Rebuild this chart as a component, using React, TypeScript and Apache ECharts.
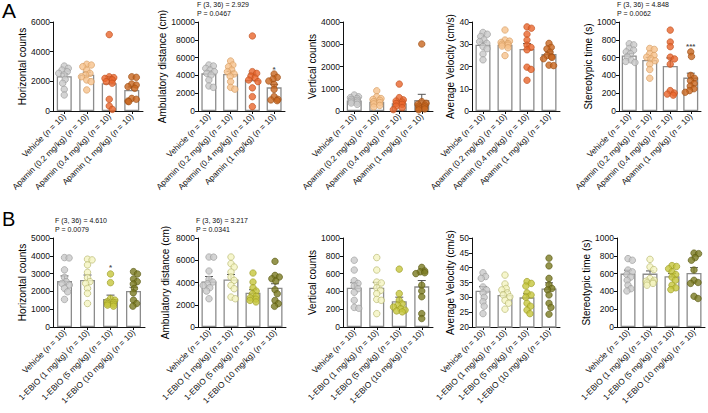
import React, { useEffect, useRef } from 'react';
import * as echarts from 'echarts';

const FONT = '"Liberation Sans", Arial, Helvetica, sans-serif';

const catsA = ['Vehicle (n = 10)', 'Apamin (0.2 mg/kg) (n = 10)', 'Apamin (0.4 mg/kg) (n = 10)', 'Apamin (1 mg/kg) (n = 10)'];
const catsB = ['Vehicle (n = 10)', '1-EBIO (1 mg/kg) (n = 10)', '1-EBIO (5 mg/kg) (n = 10)', '1-EBIO (10 mg/kg) (n = 10)'];

const fillA = ['#c9c9c9', '#f6c28c', '#e9652c', '#c8671f'];
const strokeA = ['#999999', '#d49a5e', '#bf4f1c', '#9a4c12'];
const fillB = ['#c9c9c9', '#f4f4c0', '#c6c63c', '#7b7b22'];
const strokeB = ['#999999', '#b4b46a', '#9a9a22', '#585812'];

// Panel A1: Horizontal counts
const a1Means = [2340, 2450, 1870, 1420];
const a1Err = [190, 170, 440, 200];
const a1Pts = [
  [3030, 2880, 2760, 2650, 2540, 2430, 2130, 1870, 1460, 1080],
  [3150, 3100, 2990, 2760, 2540, 2430, 2310, 2090, 1980, 1420],
  [5150, 2310, 2250, 2200, 2100, 1980, 1870, 790, 340, 110],
  [2310, 2270, 1820, 1750, 1640, 1530, 850, 790, 670, 630],
];
// Panel A2: Ambulatory distance
const a2Means = [4230, 4160, 3480, 2660];
const a2Err = [280, 300, 680, 330];
const a2Pts = [
  [5170, 5060, 4790, 4600, 4420, 4230, 4040, 3480, 2810, 2660],
  [5620, 5170, 4980, 4600, 4420, 4160, 3900, 3300, 2660, 2450],
  [8430, 4420, 4230, 3930, 3700, 3480, 3300, 2600, 1610, 490],
  [4160, 3780, 3600, 3370, 2990, 2430, 1610, 1310, 1240, 1160],
];
// Panel A3: Vertical counts
const a3Means = [470, 420, 345, 490];
const a3Err = [45, 70, 110, 260];
const a3Pts = [
  [720, 640, 600, 560, 520, 480, 440, 400, 360, 300],
  [910, 640, 560, 520, 480, 420, 380, 320, 250, 180],
  [1210, 600, 500, 450, 400, 340, 300, 220, 150, 60],
  [3010, 420, 350, 300, 260, 220, 180, 130, 90, 50],
];
// Panel A4: Average velocity
const a4Means = [29.8, 29.8, 27.9, 25.6];
const a4Err = [1.2, 1.0, 2.4, 1.0];
const a4Pts = [
  [35.3, 34.5, 33.5, 32.0, 31.2, 30.4, 29.0, 28.0, 25.6, 23.0],
  [36.4, 31.9, 31.4, 30.8, 30.3, 30.0, 29.6, 29.2, 28.4, 24.9],
  [37.8, 37.2, 34.5, 31.9, 29.6, 28.6, 27.5, 19.7, 18.7, 13.8],
  [30.4, 28.6, 27.9, 26.4, 24.9, 24.4, 24.1, 23.5, 20.6, 20.4],
];
// Panel A5: Stereotypic time
const a5Means = [624, 573, 506, 375];
const a5Err = [24, 30, 90, 50];
const a5Pts = [
  [755, 743, 703, 684, 664, 644, 605, 573, 557, 545],
  [703, 692, 644, 624, 605, 585, 565, 526, 466, 368],
  [909, 775, 723, 605, 585, 526, 229, 202, 190, 178],
  [664, 613, 400, 368, 340, 308, 280, 250, 229, 210],
];
// Panel B1: Horizontal counts
const b1Means = [2580, 2640, 1580, 2020];
const b1Err = [290, 280, 210, 210];
const b1Pts = [
  [3900, 3880, 3210, 2790, 2550, 2450, 2360, 2170, 1980, 1550],
  [3810, 3770, 3490, 3070, 2770, 2550, 2450, 2170, 1890, 1320],
  [2980, 2490, 1600, 1510, 1420, 1380, 1320, 1280, 1230, 1170],
  [3110, 2980, 2700, 2550, 2420, 2170, 1920, 1510, 1320, 1170],
];
// Panel B2: Ambulatory distance
const b2Means = [4100, 4280, 3080, 3530];
const b2Err = [440, 440, 270, 360];
const b2Pts = [
  [6290, 6280, 5030, 4280, 4040, 3890, 3740, 3530, 3230, 2540],
  [6290, 5690, 5390, 4940, 4490, 4190, 3740, 3440, 2690, 2540],
  [4850, 4040, 3530, 3230, 2990, 2750, 2630, 2510, 2390, 2250],
  [5900, 4640, 4490, 4340, 4130, 3350, 2990, 2390, 2100, 1860],
];
// Panel B3: Vertical counts
const b3Means = [442, 442, 290, 457];
const b3Err = [55, 60, 45, 65];
const b3Pts = [
  [750, 640, 520, 490, 460, 430, 390, 300, 220, 210],
  [780, 640, 505, 495, 440, 410, 375, 310, 300, 150],
  [650, 375, 300, 260, 245, 225, 205, 190, 180, 170],
  [670, 630, 620, 610, 600, 470, 405, 340, 150, 95],
];
// Panel B4: Average velocity
const b4Means = [32.2, 30.8, 30.0, 33.0];
const b4Err = [1.4, 1.1, 1.2, 1.9];
const b4Pts = [
  [38.3, 37.0, 36.4, 33.5, 32.5, 31.5, 30.0, 28.5, 27.0, 24.5],
  [37.5, 34.5, 33.0, 32.5, 31.5, 30.8, 30.2, 29.0, 28.0, 26.0],
  [35.3, 34.7, 33.8, 31.5, 30.8, 30.0, 28.0, 27.0, 25.7, 24.5],
  [43.2, 40.6, 36.4, 34.2, 33.0, 32.5, 30.8, 28.0, 26.6, 24.3],
];
// Panel B5: Stereotypic time
const b5Means = [600, 600, 570, 607];
const b5Err = [38, 30, 30, 60];
const b5Pts = [
  [768, 750, 640, 620, 590, 560, 525, 470, 430, 405],
  [760, 675, 645, 545, 525, 515, 505, 495, 490, 470],
  [690, 680, 655, 620, 590, 560, 525, 470, 440, 420],
  [830, 824, 780, 750, 640, 525, 500, 490, 345, 320],
];

// Statistics annotations
const statA2 = ['F (3, 36) = 2.929', 'P = 0.0467'];
const statA5 = ['F (3, 36) = 4.848', 'P = 0.0062'];
const statB1 = ['F (3, 36) = 4.610', 'P = 0.0079'];
const statB2 = ['F (3, 36) = 3.217', 'P = 0.0341'];
// Significance marks: [category index, value, text]
const sigA2 = [3, 4700, '*'];
const sigA5 = [3, 720, '***'];
const sigB1 = [2, 3350, '*'];

type Panel = {
  name: string; min: number; max: number; interval: number;
  means: number[]; err: number[]; pts: number[][];
  cats: string[]; fill: string[]; stroke: string[];
  left: number; top: number; width: number; gap: number;
  sig?: (number | string)[];
};

const H = 89;

const panels: Panel[] = [
  { name: 'Horizontal counts', min: 0, max: 6000, interval: 2000, means: a1Means, err: a1Err, pts: a1Pts, cats: catsA, fill: fillA, stroke: strokeA, left: 53, top: 22, width: 90, gap: 24 },
  { name: 'Ambulatory distance (cm)', min: 0, max: 10000, interval: 2000, means: a2Means, err: a2Err, pts: a2Pts, cats: catsA, fill: fillA, stroke: strokeA, left: 198, top: 22, width: 87, gap: 28, sig: sigA2 },
  { name: 'Vertical counts', min: 0, max: 4000, interval: 1000, means: a3Means, err: a3Err, pts: a3Pts, cats: catsA, fill: fillA, stroke: strokeA, left: 343, top: 22, width: 90, gap: 24 },
  { name: 'Average Velocity (cm/s)', min: 0, max: 40, interval: 10, means: a4Means, err: a4Err, pts: a4Pts, cats: catsA, fill: fillA, stroke: strokeA, left: 472, top: 22, width: 88, gap: 16 },
  { name: 'Stereotypic time (s)', min: 0, max: 1000, interval: 200, means: a5Means, err: a5Err, pts: a5Pts, cats: catsA, fill: fillA, stroke: strokeA, left: 619, top: 22, width: 82, gap: 26, sig: sigA5 },
  { name: 'Horizontal counts', min: 0, max: 5000, interval: 1000, means: b1Means, err: b1Err, pts: b1Pts, cats: catsB, fill: fillB, stroke: strokeB, left: 53, top: 238, width: 92, gap: 24, sig: sigB1 },
  { name: 'Ambulatory distance (cm)', min: 0, max: 8000, interval: 2000, means: b2Means, err: b2Err, pts: b2Pts, cats: catsB, fill: fillB, stroke: strokeB, left: 198, top: 238, width: 88, gap: 28 },
  { name: 'Vertical counts', min: 0, max: 1000, interval: 200, means: b3Means, err: b3Err, pts: b3Pts, cats: catsB, fill: fillB, stroke: strokeB, left: 343, top: 238, width: 90, gap: 26 },
  { name: 'Average Velocity (cm/s)', min: 20, max: 50, interval: 5, means: b4Means, err: b4Err, pts: b4Pts, cats: catsB, fill: fillB, stroke: strokeB, left: 472, top: 238, width: 88, gap: 16 },
  { name: 'Stereotypic time (s)', min: 0, max: 1000, interval: 200, means: b5Means, err: b5Err, pts: b5Pts, cats: catsB, fill: fillB, stroke: strokeB, left: 617, top: 238, width: 88, gap: 26 },
];

// beeswarm horizontal offsets (in pixels) so that dots do not pile up
function swarm(vals: number[], pxPerUnit: number): number[] {
  const D = 4.6;
  const MAX = 6;
  const order = vals.map((_, i) => i).sort((a, b) => vals[b] - vals[a]);
  const placed: { x: number; y: number }[] = [];
  const off = vals.map(() => 0);
  let alt = 1;
  for (const i of order) {
    const y = vals[i] * pxPerUnit;
    const cands = [0];
    for (const p of placed) {
      const dy = Math.abs(p.y - y);
      if (dy < D) {
        const dx = Math.sqrt(D * D - dy * dy);
        cands.push(p.x + dx + 0.01, p.x - dx - 0.01);
      }
    }
    cands.sort((a, b) => Math.abs(a) - Math.abs(b));
    let x = cands.find(c => Math.abs(c) <= MAX && placed.every(p => (p.x - c) ** 2 + (p.y - y) ** 2 >= D * D - 0.02));
    if (x === undefined) { x = alt * MAX * 0.5; alt = -alt; }
    off[i] = x;
    placed.push({ x, y });
  }
  return off;
}

function buildOption() {
  const grid: any[] = [];
  const xAxis: any[] = [];
  const yAxis: any[] = [];
  const series: any[] = [];
  const axisColor = '#111111';
  panels.forEach((p, k) => {
    grid.push({ left: p.left, top: p.top, width: p.width, height: H, containLabel: false });
    xAxis.push({
      type: 'category', gridIndex: k, data: p.cats,
      axisLine: { onZero: false, lineStyle: { color: axisColor, width: 1 } },
      axisTick: { show: true, alignWithLabel: true, length: 3, lineStyle: { color: axisColor } },
      axisLabel: {
        interval: 0, rotate: 45, margin: 4, fontSize: 8.3, color: '#111', fontFamily: FONT,
        formatter: (v: string) => v.replace('(n = 10)', '({i|n} = 10)'),
        rich: { i: { fontStyle: 'italic', fontSize: 8.3, color: '#111', fontFamily: FONT } },
      },
    });
    yAxis.push({
      type: 'value', gridIndex: k, min: p.min, max: p.max, interval: p.interval,
      name: p.name, nameLocation: 'middle', nameGap: p.gap,
      nameTextStyle: { fontSize: 10, color: '#000', fontFamily: FONT },
      axisLine: { show: true, lineStyle: { color: axisColor, width: 1 } },
      axisTick: { show: true, length: 3, lineStyle: { color: axisColor } },
      axisLabel: { fontSize: 8.5, color: '#111', margin: 3, fontFamily: FONT, formatter: (v: number) => String(v) },
      splitLine: { show: false },
    });
    series.push({
      type: 'bar', xAxisIndex: k, yAxisIndex: k, data: p.means, barWidth: 15, z: 2,
      itemStyle: { color: '#ffffff', borderColor: '#8c8c8c', borderWidth: 1.3 },
      silent: true,
    });
    series.push({
      type: 'custom', xAxisIndex: k, yAxisIndex: k, z: 3, silent: true,
      data: p.means.map((m, i) => [i, m, p.err[i]]),
      encode: { x: 0, y: 1 },
      renderItem: (_params: any, api: any) => {
        const x = api.value(0), m = api.value(1), e = api.value(2);
        const p0 = api.coord([x, m]);
        const p1 = api.coord([x, m + e]);
        const st = { stroke: '#555', lineWidth: 1 };
        return {
          type: 'group', children: [
            { type: 'line', shape: { x1: p0[0], y1: p0[1], x2: p1[0], y2: p1[1] }, style: st },
            { type: 'line', shape: { x1: p1[0] - 4, y1: p1[1], x2: p1[0] + 4, y2: p1[1] }, style: st },
          ],
        };
      },
    });
    const ppu = H / (p.max - p.min);
    const data: any[] = [];
    p.pts.forEach((arr, ci) => {
      const offs = swarm(arr, ppu);
      arr.forEach((v, j) => {
        data.push({
          value: [ci, v], symbolOffset: [offs[j], 0],
          itemStyle: { color: p.fill[ci], borderColor: p.stroke[ci], borderWidth: 0.8 },
        });
      });
    });
    series.push({
      type: 'scatter', xAxisIndex: k, yAxisIndex: k, z: 4, symbolSize: 6.5, silent: true, clip: false,
      data,
    });
    if (p.sig) {
      series.push({
        type: 'scatter', xAxisIndex: k, yAxisIndex: k, z: 5, symbolSize: 1, silent: true,
        itemStyle: { color: 'rgba(0,0,0,0)' },
        data: [[p.sig[0], p.sig[1]]],
        label: { show: true, position: 'inside', formatter: String(p.sig[2]), fontSize: 8, fontWeight: 'bold', color: '#222', fontFamily: FONT },
      });
    }
  });

  const t = (text: string, x: number, y: number, size = 7) => ({
    type: 'text', left: x, top: y, silent: true,
    style: { text, fontSize: size, fill: '#111', fontFamily: FONT },
  });
  const graphic = [
    { type: 'text', left: 2, top: 0, style: { text: 'A', fontSize: 21, fill: '#000', fontFamily: FONT } },
    { type: 'text', left: 2, top: 209, style: { text: 'B', fontSize: 20, fill: '#000', fontFamily: FONT } },
    t(statA2[0], 197, 1), t(statA2[1], 197, 9.5),
    t(statA5[0], 617, 1), t(statA5[1], 617, 9.5),
    t(statB1[0], 55, 217), t(statB1[1], 55, 226),
    t(statB2[0], 196, 217), t(statB2[1], 196, 226),
  ];

  return {
    animation: false,
    backgroundColor: '#ffffff',
    textStyle: { fontFamily: FONT },
    grid, xAxis, yAxis, series, graphic,
  };
}

export default function App() {
  const ref = useRef<HTMLDivElement>(null);
  useEffect(() => {
    if (!ref.current) return;
    const chart = echarts.init(ref.current, undefined, { renderer: 'svg' });
    chart.setOption(buildOption() as any);
    return () => chart.dispose();
  }, []);
  return (
    <div
      ref={ref}
      style={{ position: 'fixed', left: 0, top: 0, width: 708, height: 413, background: '#fff' }}
    />
  );
}
